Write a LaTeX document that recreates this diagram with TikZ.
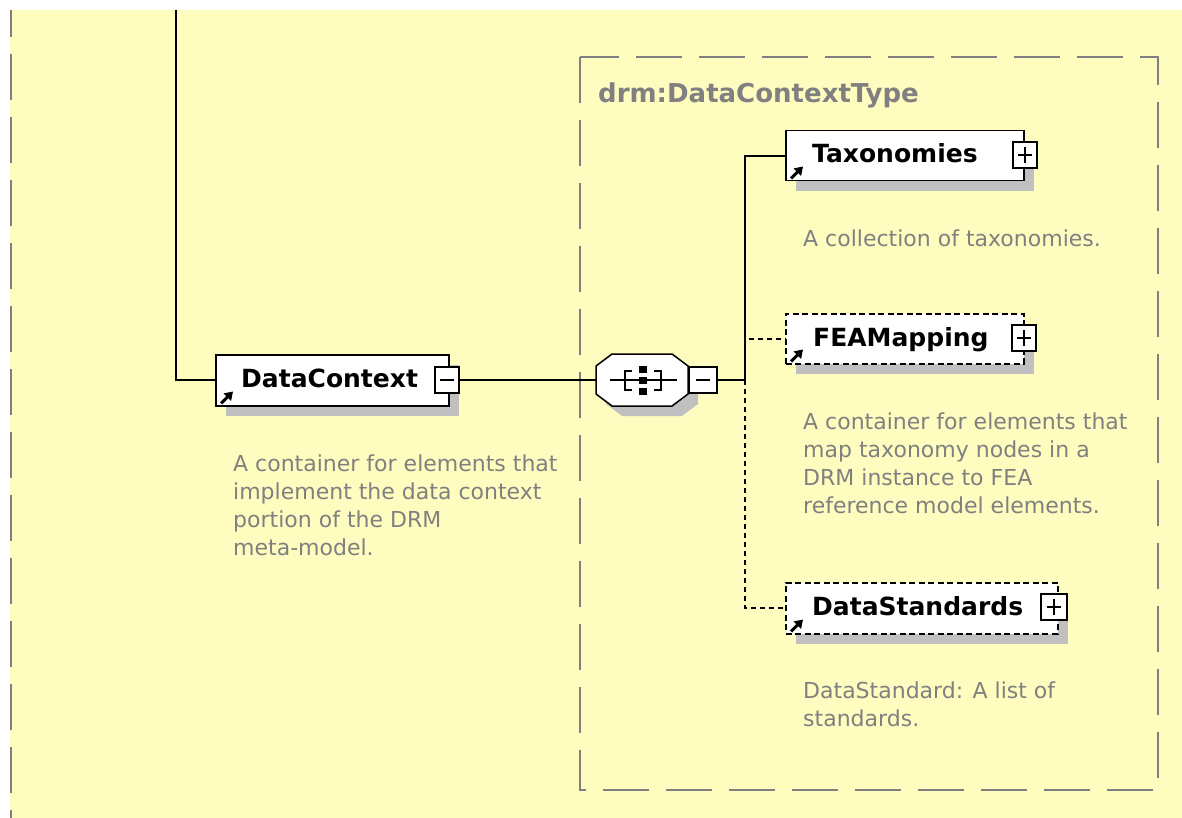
\documentclass[tikz,border=0pt]{standalone}
\usepackage{fontspec}
\setmainfont{DejaVu Sans}
\usetikzlibrary{arrows.meta,shadows}

\definecolor{bgyellow}{RGB}{255,252,192}
\definecolor{frame}{RGB}{128,128,128}
\definecolor{shade}{RGB}{192,192,192}
\definecolor{doctext}{RGB}{128,128,128}

\tikzset{
  conn/.style={line width=1.6pt, black},
  optconn/.style={conn, dash pattern=on 5pt off 4pt},
  elembox/.style={draw=black, fill=white, line width=1.5pt, anchor=north west,
    inner sep=0pt, minimum height=50pt,
    drop shadow={shadow xshift=10pt, shadow yshift=-10pt, fill=shade, opacity=1}},
  optbox/.style={elembox, dash pattern=on 6pt off 3.5pt},
  elemname/.style={anchor=base west, inner sep=0pt,
    font=\fontsize{25}{30}\selectfont\bfseries},
  toggle/.style={draw=black, fill=white, line width=1.5pt, inner sep=0pt,
    minimum width=24pt, minimum height=26pt},
  doc/.style={anchor=north west, inner sep=0pt, align=left, text=doctext,
    font=\fontsize{22}{28}\selectfont},
  refarrow/.style={line width=3pt, -{Triangle[length=8pt,width=10pt]}},
  groupframe/.style={draw=frame, line width=2pt, dash pattern=on 46pt off 17pt},
}

% plus / minus glyphs drawn inside a toggle node
\newcommand{\plusmark}[1]{%
  \draw[line width=1.5pt] ([xshift=-7pt]#1.center) -- ([xshift=7pt]#1.center);
  \draw[line width=1.5pt] ([yshift=-8pt]#1.center) -- ([yshift=8pt]#1.center);}
\newcommand{\minusmark}[1]{%
  \draw[line width=1.5pt] ([xshift=-7pt]#1.center) -- ([xshift=7pt]#1.center);}
% reference arrow in the lower left corner of an element box
\newcommand{\refmark}[1]{%
  \draw[refarrow] ([xshift=6pt,yshift=3pt]#1.south west) -- ([xshift=18pt,yshift=15pt]#1.south west);}

\begin{document}
\begin{tikzpicture}[x=1pt,y=-1pt]
\useasboundingbox (0,0) rectangle (1182,818);
\fill[white] (0,0) rectangle (1190,830);
\fill[bgyellow] (10,10) rectangle (1190,830);

% outer group border (left edge only)
\draw[groupframe, dash phase=19pt] (11,10) -- (11,830);

% complex type frame
\draw[groupframe] (580,57) rectangle (1158,790);
\node[anchor=base west, inner sep=0pt, text=frame,
      font=\fontsize{26}{30}\selectfont\bfseries] (typename) at (598,103) {drm:DataContextType};

% ---- DataContext element
\node[elembox, minimum width=233pt, minimum height=51pt] (dc) at (215,354) {};
\node[elemname] (dcname) at (241,387) {DataContext};
\refmark{dc}
\node[toggle] (dctog) at (447,380) {};
\minusmark{dctog}
\node[doc] (dcdoc) at (233,455) {A container for elements that\\implement the data context\\portion of the DRM\\meta-model.};

% incoming connector from the parent
\coordinate (top) at (176,10);
\draw[conn] (top) |- (dc.west);

% ---- sequence compositor
\node[minimum width=92pt, minimum height=52pt, inner sep=0pt] (seq) at (642,380) {};
\filldraw[fill=shade, draw=none]
  (622,364) -- (682,364) -- (698,376) -- (698,404) -- (682,416) -- (622,416) -- (606,404) -- (606,376) -- cycle;
\filldraw[fill=white, draw=black, line width=1.5pt]
  (612,354) -- (672,354) -- (688,366) -- (688,394) -- (672,406) -- (612,406) -- (596,394) -- (596,366) -- cycle;
\draw[line width=1.5pt] (610,380) -- (677,380);
\draw[line width=1.5pt] (632,371) -- (625,371) -- (625,390) -- (632,390);
\draw[line width=1.5pt] (654,371) -- (661,371) -- (661,390) -- (654,390);
\fill (639,366) rectangle (647,373);
\fill (639,377) rectangle (647,384);
\fill (639,388) rectangle (647,395);
\node[toggle, minimum width=28pt] (seqtog) at (703,380) {};
\minusmark{seqtog}
\draw[conn] (dctog.east) -- (seq.west);

\coordinate (j) at (745,380);
\draw[conn] (seqtog.east) -- (j);

% ---- Taxonomies
\node[elembox, minimum width=238pt] (tax) at (785,130) {};
\node[elemname] (taxname) at (812,163) {Taxonomies};
\refmark{tax}
\node[toggle] (taxtog) at (1025,155) {};
\plusmark{taxtog}
\node[doc] (taxdoc) at (803,230) {A collection of taxonomies.};

% ---- FEAMapping (optional)
\node[optbox, minimum width=238pt] (fea) at (785,313) {};
\node[elemname] (feaname) at (813,346) {FEAMapping};
\refmark{fea}
\node[toggle] (featog) at (1024,338) {};
\plusmark{featog}
\node[doc] (feadoc) at (803,413) {A container for elements that\\map taxonomy nodes in a\\DRM instance to FEA\\reference model elements.};

% ---- DataStandards (optional)
\node[optbox, minimum width=272pt, minimum height=51pt] (ds) at (785,582) {};
\node[elemname] (dsname) at (812,615) {DataStandards};
\refmark{ds}
\node[toggle, minimum width=26pt] (dstog) at (1054,607) {};
\plusmark{dstog}
\node[doc] (dsdoc) at (803,682) {DataStandard: A list of\\standards.};

% ---- branches of the sequence
\draw[conn] (j) |- (tax.west);
\draw[optconn] (j) |- (fea.west);
\draw[optconn] (j) |- (ds.west);
\end{tikzpicture}
\end{document}
